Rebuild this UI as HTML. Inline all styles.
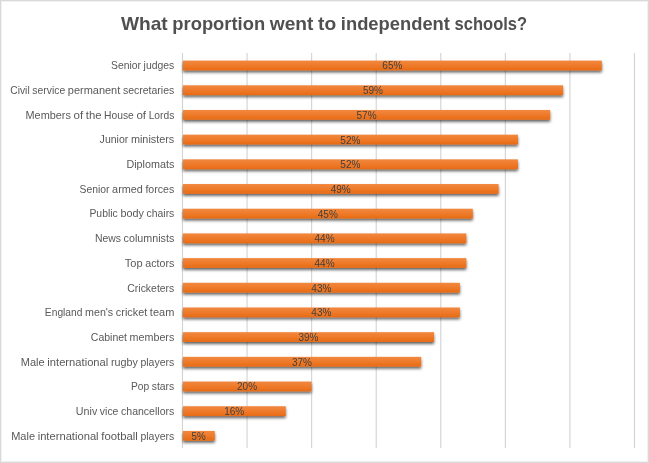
<!DOCTYPE html>
<html lang="en"><head><meta charset="utf-8"><title>What proportion went to independent schools?</title>
<style>
html,body{margin:0;padding:0;background:#fff;}
body{width:649px;height:463px;overflow:hidden;}
svg{display:block;font-family:"Liberation Sans", sans-serif;}
.t{font-weight:bold;fill:#505050;}
.l{fill:#595959;}
.d{fill:#404040;}
</style></head><body>
<svg width="649" height="463" viewBox="0 0 649 463">
<defs>
<linearGradient id="g" x1="0" y1="0" x2="0" y2="1"><stop offset="0" stop-color="#F2883F"/><stop offset="0.5" stop-color="#EE7A2A"/><stop offset="1" stop-color="#E86B15"/></linearGradient>
<filter id="s" x="-5%" y="-5%" width="110%" height="110%" filterUnits="userSpaceOnUse" primitiveUnits="userSpaceOnUse"><feGaussianBlur in="SourceAlpha" stdDeviation="1.5"/><feOffset dx="0.4" dy="1.9" result="b"/><feComponentTransfer><feFuncA type="linear" slope="0.63"/></feComponentTransfer><feMerge><feMergeNode/><feMergeNode in="SourceGraphic"/></feMerge></filter>
</defs>
<rect x="0" y="0" width="649" height="463" fill="#fff"/>
<rect x="1.5" y="1.5" width="646" height="460" fill="none" stroke="#f1f1f1" stroke-width="1"/>
<rect x="0.5" y="0.5" width="648" height="462" fill="none" stroke="#d9d9d9" stroke-width="1"/>

<g stroke="#d2d2d2" stroke-width="1.1">
<line x1="182.50" y1="53.0" x2="182.50" y2="448.0"/>
<line x1="247.07" y1="53.0" x2="247.07" y2="448.0"/>
<line x1="311.64" y1="53.0" x2="311.64" y2="448.0"/>
<line x1="376.21" y1="53.0" x2="376.21" y2="448.0"/>
<line x1="440.78" y1="53.0" x2="440.78" y2="448.0"/>
<line x1="505.35" y1="53.0" x2="505.35" y2="448.0"/>
<line x1="569.92" y1="53.0" x2="569.92" y2="448.0"/>
<line x1="634.49" y1="53.0" x2="634.49" y2="448.0"/>
</g>
<g filter="url(#s)" fill="url(#g)">
<rect x="183.00" y="60.60" width="418.80" height="9.8"/>
<rect x="183.00" y="85.29" width="380.10" height="9.8"/>
<rect x="183.00" y="109.98" width="367.20" height="9.8"/>
<rect x="183.00" y="134.67" width="334.95" height="9.8"/>
<rect x="183.00" y="159.35" width="334.95" height="9.8"/>
<rect x="183.00" y="184.04" width="315.60" height="9.8"/>
<rect x="183.00" y="208.73" width="289.80" height="9.8"/>
<rect x="183.00" y="233.42" width="283.35" height="9.8"/>
<rect x="183.00" y="258.10" width="283.35" height="9.8"/>
<rect x="183.00" y="282.79" width="276.90" height="9.8"/>
<rect x="183.00" y="307.48" width="276.90" height="9.8"/>
<rect x="183.00" y="332.17" width="251.10" height="9.8"/>
<rect x="183.00" y="356.85" width="238.20" height="9.8"/>
<rect x="183.00" y="381.54" width="128.55" height="9.8"/>
<rect x="183.00" y="406.23" width="102.75" height="9.8"/>
<rect x="183.00" y="430.92" width="31.80" height="9.8"/>
</g>
<text class="t" y="29.80" font-size="18.20"><tspan x="120.90" textLength="46.81" lengthAdjust="spacingAndGlyphs">What</tspan> <tspan x="172.34" textLength="92.78" lengthAdjust="spacingAndGlyphs">proportion</tspan> <tspan x="269.76" textLength="43.70" lengthAdjust="spacingAndGlyphs">went</tspan> <tspan x="318.09" textLength="18.13" lengthAdjust="spacingAndGlyphs">to</tspan> <tspan x="340.85" textLength="109.11" lengthAdjust="spacingAndGlyphs">independent</tspan> <tspan x="454.60" textLength="72.51" lengthAdjust="spacingAndGlyphs">schools?</tspan></text>
<text class="l" y="69.34" font-size="10.31"><tspan x="111.03" textLength="29.97" lengthAdjust="spacingAndGlyphs">Senior</tspan> <tspan x="143.62" textLength="30.68" lengthAdjust="spacingAndGlyphs">judges</tspan></text>
<text class="l" y="94.03" font-size="10.31"><tspan x="10.31" textLength="19.38" lengthAdjust="spacingAndGlyphs">Civil</tspan> <tspan x="32.30" textLength="32.87" lengthAdjust="spacingAndGlyphs">service</tspan> <tspan x="67.80" textLength="52.49" lengthAdjust="spacingAndGlyphs">permanent</tspan> <tspan x="122.90" textLength="51.40" lengthAdjust="spacingAndGlyphs">secretaries</tspan></text>
<text class="l" y="118.72" font-size="10.31"><tspan x="25.56" textLength="45.32" lengthAdjust="spacingAndGlyphs">Members</tspan> <tspan x="73.50" textLength="9.64" lengthAdjust="spacingAndGlyphs">of</tspan> <tspan x="85.76" textLength="15.72" lengthAdjust="spacingAndGlyphs">the</tspan> <tspan x="104.10" textLength="29.70" lengthAdjust="spacingAndGlyphs">House</tspan> <tspan x="136.42" textLength="9.64" lengthAdjust="spacingAndGlyphs">of</tspan> <tspan x="148.67" textLength="25.63" lengthAdjust="spacingAndGlyphs">Lords</tspan></text>
<text class="l" y="143.41" font-size="10.31"><tspan x="99.64" textLength="28.66" lengthAdjust="spacingAndGlyphs">Junior</tspan> <tspan x="130.91" textLength="43.39" lengthAdjust="spacingAndGlyphs">ministers</tspan></text>
<text class="l" y="168.09" font-size="10.31"><tspan x="126.46" textLength="47.84" lengthAdjust="spacingAndGlyphs">Diplomats</tspan></text>
<text class="l" y="192.78" font-size="10.31"><tspan x="79.55" textLength="29.97" lengthAdjust="spacingAndGlyphs">Senior</tspan> <tspan x="112.14" textLength="30.68" lengthAdjust="spacingAndGlyphs">armed</tspan> <tspan x="145.43" textLength="28.87" lengthAdjust="spacingAndGlyphs">forces</tspan></text>
<text class="l" y="217.47" font-size="10.31"><tspan x="89.43" textLength="28.36" lengthAdjust="spacingAndGlyphs">Public</tspan> <tspan x="120.41" textLength="23.52" lengthAdjust="spacingAndGlyphs">body</tspan> <tspan x="146.55" textLength="27.75" lengthAdjust="spacingAndGlyphs">chairs</tspan></text>
<text class="l" y="242.16" font-size="10.31"><tspan x="94.96" textLength="26.04" lengthAdjust="spacingAndGlyphs">News</tspan> <tspan x="123.63" textLength="50.67" lengthAdjust="spacingAndGlyphs">columnists</tspan></text>
<text class="l" y="266.84" font-size="10.31"><tspan x="124.85" textLength="17.83" lengthAdjust="spacingAndGlyphs">Top</tspan> <tspan x="145.30" textLength="29.00" lengthAdjust="spacingAndGlyphs">actors</tspan></text>
<text class="l" y="291.53" font-size="10.31"><tspan x="127.30" textLength="47.00" lengthAdjust="spacingAndGlyphs">Cricketers</tspan></text>
<text class="l" y="316.22" font-size="10.31"><tspan x="44.87" textLength="37.56" lengthAdjust="spacingAndGlyphs">England</tspan> <tspan x="85.05" textLength="28.18" lengthAdjust="spacingAndGlyphs">men&#39;s</tspan> <tspan x="115.85" textLength="31.39" lengthAdjust="spacingAndGlyphs">cricket</tspan> <tspan x="149.86" textLength="24.44" lengthAdjust="spacingAndGlyphs">team</tspan></text>
<text class="l" y="340.91" font-size="10.31"><tspan x="90.82" textLength="36.19" lengthAdjust="spacingAndGlyphs">Cabinet</tspan> <tspan x="129.63" textLength="44.67" lengthAdjust="spacingAndGlyphs">members</tspan></text>
<text class="l" y="365.59" font-size="10.31"><tspan x="20.84" textLength="23.87" lengthAdjust="spacingAndGlyphs">Male</tspan> <tspan x="47.33" textLength="60.98" lengthAdjust="spacingAndGlyphs">international</tspan> <tspan x="110.93" textLength="26.90" lengthAdjust="spacingAndGlyphs">rugby</tspan> <tspan x="140.44" textLength="33.86" lengthAdjust="spacingAndGlyphs">players</tspan></text>
<text class="l" y="390.28" font-size="10.31"><tspan x="130.99" textLength="18.17" lengthAdjust="spacingAndGlyphs">Pop</tspan> <tspan x="151.78" textLength="22.52" lengthAdjust="spacingAndGlyphs">stars</tspan></text>
<text class="l" y="414.97" font-size="10.31"><tspan x="75.86" textLength="21.40" lengthAdjust="spacingAndGlyphs">Univ</tspan> <tspan x="99.88" textLength="18.55" lengthAdjust="spacingAndGlyphs">vice</tspan> <tspan x="121.04" textLength="53.26" lengthAdjust="spacingAndGlyphs">chancellors</tspan></text>
<text class="l" y="439.66" font-size="10.31"><tspan x="11.17" textLength="23.87" lengthAdjust="spacingAndGlyphs">Male</tspan> <tspan x="37.65" textLength="60.98" lengthAdjust="spacingAndGlyphs">international</tspan> <tspan x="101.25" textLength="36.57" lengthAdjust="spacingAndGlyphs">football</tspan> <tspan x="140.44" textLength="33.86" lengthAdjust="spacingAndGlyphs">players</tspan></text>
<text class="d" y="69.49" font-size="10.13"><tspan x="382.34" textLength="20.02" lengthAdjust="spacingAndGlyphs">65%</tspan></text>
<text class="d" y="94.18" font-size="10.13"><tspan x="362.97" textLength="20.02" lengthAdjust="spacingAndGlyphs">59%</tspan></text>
<text class="d" y="118.87" font-size="10.13"><tspan x="356.52" textLength="20.02" lengthAdjust="spacingAndGlyphs">57%</tspan></text>
<text class="d" y="143.56" font-size="10.13"><tspan x="340.37" textLength="20.02" lengthAdjust="spacingAndGlyphs">52%</tspan></text>
<text class="d" y="168.24" font-size="10.13"><tspan x="340.37" textLength="20.02" lengthAdjust="spacingAndGlyphs">52%</tspan></text>
<text class="d" y="192.93" font-size="10.13"><tspan x="330.69" textLength="20.02" lengthAdjust="spacingAndGlyphs">49%</tspan></text>
<text class="d" y="217.62" font-size="10.13"><tspan x="317.77" textLength="20.02" lengthAdjust="spacingAndGlyphs">45%</tspan></text>
<text class="d" y="242.31" font-size="10.13"><tspan x="314.55" textLength="20.02" lengthAdjust="spacingAndGlyphs">44%</tspan></text>
<text class="d" y="266.99" font-size="10.13"><tspan x="314.55" textLength="20.02" lengthAdjust="spacingAndGlyphs">44%</tspan></text>
<text class="d" y="291.68" font-size="10.13"><tspan x="311.32" textLength="20.02" lengthAdjust="spacingAndGlyphs">43%</tspan></text>
<text class="d" y="316.37" font-size="10.13"><tspan x="311.32" textLength="20.02" lengthAdjust="spacingAndGlyphs">43%</tspan></text>
<text class="d" y="341.06" font-size="10.13"><tspan x="298.40" textLength="20.02" lengthAdjust="spacingAndGlyphs">39%</tspan></text>
<text class="d" y="365.74" font-size="10.13"><tspan x="291.95" textLength="20.02" lengthAdjust="spacingAndGlyphs">37%</tspan></text>
<text class="d" y="390.43" font-size="10.13"><tspan x="237.06" textLength="20.02" lengthAdjust="spacingAndGlyphs">20%</tspan></text>
<text class="d" y="415.12" font-size="10.13"><tspan x="224.15" textLength="20.02" lengthAdjust="spacingAndGlyphs">16%</tspan></text>
<text class="d" y="439.81" font-size="10.13"><tspan x="191.57" textLength="14.15" lengthAdjust="spacingAndGlyphs">5%</tspan></text>
</svg></body></html>
